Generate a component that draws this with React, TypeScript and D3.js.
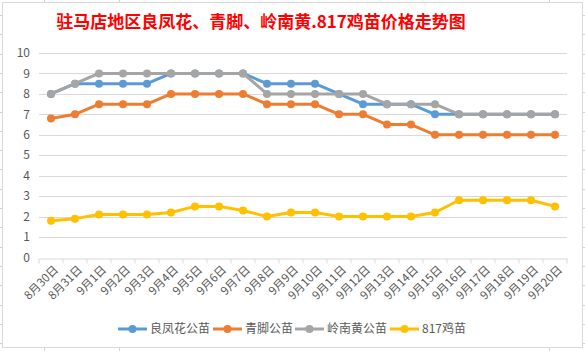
import React, { useEffect, useRef } from 'react'
import * as d3 from 'd3'

const categories = [
  '8月30日', '8月31日', '9月1日', '9月2日', '9月3日', '9月4日', '9月5日', '9月6日',
  '9月7日', '9月8日', '9月9日', '9月10日', '9月11日', '9月12日', '9月13日', '9月14日',
  '9月15日', '9月16日', '9月17日', '9月18日', '9月19日', '9月20日',
]

const liangfenghua = [8, 8.5, 8.5, 8.5, 8.5, 9, 9, 9, 9, 8.5, 8.5, 8.5, 8, 7.5, 7.5, 7.5, 7, 7, 7, 7, 7, 7]
const qingjiao = [6.8, 7, 7.5, 7.5, 7.5, 8, 8, 8, 8, 7.5, 7.5, 7.5, 7, 7, 6.5, 6.5, 6, 6, 6, 6, 6, 6]
const lingnanhuang = [8, 8.5, 9, 9, 9, 9, 9, 9, 9, 8, 8, 8, 8, 8, 7.5, 7.5, 7.5, 7, 7, 7, 7, 7]
const ji817 = [1.8, 1.9, 2.1, 2.1, 2.1, 2.2, 2.5, 2.5, 2.3, 2.0, 2.2, 2.2, 2.0, 2.0, 2.0, 2.0, 2.2, 2.8, 2.8, 2.8, 2.8, 2.5]

const yTicks = [0, 1, 2, 3, 4, 5, 6, 7, 8, 9, 10]

const series = [
  { name: '良凤花公苗', values: liangfenghua, color: '#5B9BD5' },
  { name: '青脚公苗', values: qingjiao, color: '#ED7D31' },
  { name: '岭南黄公苗', values: lingnanhuang, color: '#A5A5A5' },
  { name: '817鸡苗', values: ji817, color: '#FFC000' },
]

const title = '驻马店地区良凤花、青脚、岭南黄.817鸡苗价格走势图'

const App = () => {
  const svgRef = useRef(null)

  useEffect(() => {
    if (!svgRef.current) return
    const svg = d3.select(svgRef.current)
    svg.selectAll('*').remove()
    const width = 585
    const height = 351
    const font = '"Noto Sans CJK SC", "Noto Sans", sans-serif'
    const margin = { top: 53, right: 18, bottom: 93, left: 39 }

    // spreadsheet grid peeking out around the chart
    const sheet = svg.append('g').attr('stroke', '#d4d4d4').attr('stroke-width', 1)
    d3.range(15, height, 19.3).forEach((y) => {
      sheet.append('line').attr('x1', 0).attr('x2', width).attr('y1', Math.round(y) + 0.5).attr('y2', Math.round(y) + 0.5)
    })
    ;[44, 119, 549].forEach((x) => {
      sheet.append('line').attr('x1', x + 0.5).attr('x2', x + 0.5).attr('y1', 0).attr('y2', height)
    })

    svg
      .append('rect')
      .attr('x', 2.5)
      .attr('y', 2.5)
      .attr('width', 580)
      .attr('height', 345)
      .attr('fill', '#ffffff')
      .attr('stroke', '#d9d9d9')

    svg
      .append('text')
      .attr('x', 261)
      .attr('y', 28)
      .attr('text-anchor', 'middle')
      .attr('font-family', font)
      .attr('font-weight', 'bold')
      .attr('font-size', 17)
      .attr('fill', '#ff0000')
      .text(title)

    const x = d3
      .scaleBand()
      .domain(categories)
      .range([margin.left, width - margin.right])

    const y = d3
      .scaleLinear()
      .domain([0, 10])
      .range([height - margin.bottom - 0.5, margin.top])

    // horizontal grid
    svg
      .append('g')
      .selectAll('line')
      .data(yTicks.filter((d) => d > 0))
      .join('line')
      .attr('x1', margin.left)
      .attr('x2', width - margin.right)
      .attr('y1', (d) => Math.round(y(d)) + 0.5)
      .attr('y2', (d) => Math.round(y(d)) + 0.5)
      .attr('stroke', '#d9d9d9')

    // y labels
    svg
      .append('g')
      .selectAll('text')
      .data(yTicks)
      .join('text')
      .attr('x', 30)
      .attr('y', (d) => y(d))
      .attr('dy', '0.35em')
      .attr('text-anchor', 'end')
      .attr('font-family', font)
      .attr('font-size', 12)
      .attr('fill', '#595959')
      .text((d) => d)

    // x axis
    const xAxis = d3.axisBottom(x).tickSize(5).tickSizeOuter(0).tickFormat(() => '')
    const xg = svg
      .append('g')
      .attr('transform', `translate(0,${Math.round(y(0)) + 0.5})`)
      .call(xAxis)
    xg.select('.domain').attr('stroke', '#d9d9d9')
    xg.selectAll('.tick line')
      .attr('stroke', '#d9d9d9')
      .attr('transform', `translate(${-x.bandwidth() / 2},0)`)
    xg.append('line')
      .attr('x1', width - margin.right)
      .attr('x2', width - margin.right)
      .attr('y1', 0)
      .attr('y2', 5)
      .attr('stroke', '#d9d9d9')

    svg
      .append('g')
      .selectAll('text')
      .data(categories)
      .join('text')
      .attr('transform', (d) => `translate(${x(d) + x.bandwidth() / 2 + 5},${y(0) + 10}) rotate(-45)`)
      .attr('text-anchor', 'end')
      .attr('dy', '0.35em')
      .attr('font-family', font)
      .attr('font-size', 11.5)
      .attr('fill', '#595959')
      .text((d) => d)

    const line = d3
      .line()
      .x((d, i) => x(categories[i]) + x.bandwidth() / 2)
      .y((d) => y(d))

    series.forEach((s) => {
      const g = svg.append('g')
      g.append('path')
        .datum(s.values)
        .attr('d', line)
        .attr('fill', 'none')
        .attr('stroke', s.color)
        .attr('stroke-width', 3)
        .attr('stroke-linejoin', 'round')
      g.selectAll('circle')
        .data(s.values)
        .join('circle')
        .attr('cx', (d, i) => x(categories[i]) + x.bandwidth() / 2)
        .attr('cy', (d) => y(d))
        .attr('r', 4)
        .attr('fill', s.color)
    })

    // legend
    const legendX = [118, 213, 295, 390]
    const legend = svg.append('g')
    series.forEach((s, i) => {
      const lx = legendX[i]
      legend.append('line')
        .attr('x1', lx)
        .attr('x2', lx + 29)
        .attr('y1', 329)
        .attr('y2', 329)
        .attr('stroke', s.color)
        .attr('stroke-width', 3)
      legend.append('circle').attr('cx', lx + 14.5).attr('cy', 329).attr('r', 4).attr('fill', s.color)
      legend.append('text')
        .attr('x', lx + 32)
        .attr('y', 329)
        .attr('dy', '0.35em')
        .attr('font-family', font)
        .attr('font-size', 12)
        .attr('fill', '#595959')
        .text(s.name)
    })
  }, [])

  return (
    <svg
      ref={svgRef}
      width={585}
      height={351}
      style={{ position: 'absolute', left: 0, top: 0, background: '#fff' }}
    ></svg>
  )
}

export default App
